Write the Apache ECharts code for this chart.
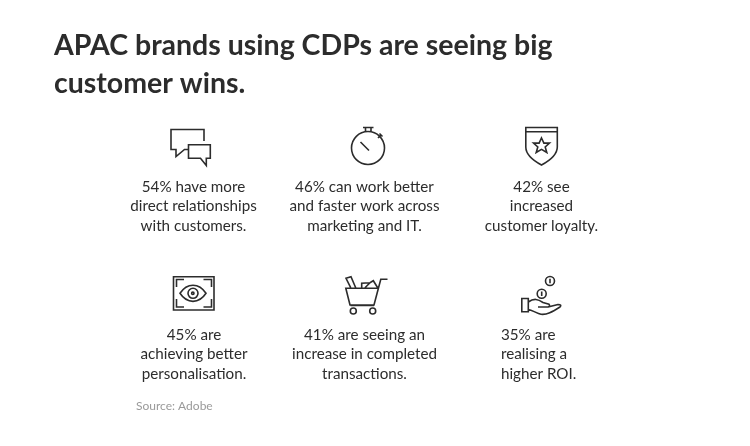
<!DOCTYPE html>
<html>
<head>
<meta charset="utf-8">
<script src="https://cdn.jsdelivr.net/npm/echarts@6/dist/echarts.min.js"></script>
<style>
  html, body { margin: 0; padding: 0; background: #fff; }
  #chart { width: 750px; height: 446px; }
</style>
</head>
<body>
<div id="chart"></div>
<script>
var titleText = 'APAC brands using CDPs are seeing big\ncustomer wins.';
var sourceText = 'Source: Adobe';
var percents = [54, 46, 42, 45, 41, 35];
var captions = [
  ' have more\ndirect relationships\nwith customers.',
  ' can work better\nand faster work across\nmarketing and IT.',
  ' see\nincreased\ncustomer loyalty.',
  ' are\nachieving better\npersonalisation.',
  ' are seeing an\nincrease in completed\ntransactions.',
  ' are\nrealising a\nhigher ROI.'
];

// where each caption sits on the page
var captionSlots = [
  { x: 193.5, y: 177.6, align: 'center' },
  { x: 364.5, y: 177.6, align: 'center' },
  { x: 541.5, y: 177.6, align: 'center' },
  { x: 194, y: 325.6, align: 'center' },
  { x: 364.5, y: 325.6, align: 'center' },
  { x: 501, y: 325.6, align: 'left' }
];

var ink = '#2c2c2c';
var fontName = 'Lato, sans-serif';

// icons are plain svg paths in page pixels
var iconPaths = [
  // chat bubbles
  'M204 141V129.5H171V149.5H176V156.5L184.5 149.5H188 M188.5 144.8H210.3V158.3H206.3V165.5L200.5 158.3H188.5Z',
  // stopwatch
  'M384.5 148A16.5 16.5 0 1 1 351.5 148A16.5 16.5 0 1 1 384.5 148Z M363 127.5H373.5 M365.5 127.5V131.8 M371 127.5V131.8 M378 138L381 135 M379.5 133.5L382.5 136.5 M360.5 142L369 150.5',
  // shield with star
  'M525.8 127.5H557.3V147C557.3 155 549 161 541.5 165C534 161 525.8 155 525.8 147Z M525.8 131.8H557.3 M541.5 138L543.9 143.1H549.5L545.2 147L546.8 152.5L541.5 149.4L536.2 152.5L537.8 147L533.5 143.1H539.1Z',
  // framed eye
  'M173.5 276.8H214V310H173.5Z M176.5 287V279.5H184 M203.5 279.5H211.5V287 M176.5 299V307H184 M203.5 307H211.5V299 M180 293.3C187 282.5 199 282.5 206 293.3C199 304 187 304 180 293.3Z M198 293.3A5 5 0 1 1 188 293.3A5 5 0 1 1 198 293.3Z M194 293.3A1.2 1.2 0 1 1 191.6 293.3A1.2 1.2 0 1 1 194 293.3Z',
  // cart
  'M345.8 288.3H378.4L374 305H350Z M378.4 288.3L380.8 279.2H387.5 M350.5 305.5H374 M356.3 311A3 3 0 1 1 350.3 311A3 3 0 1 1 356.3 311Z M375.7 311A3 3 0 1 1 369.7 311A3 3 0 1 1 375.7 311Z M350.7 287.7L346 278.3L351 276.7L355.7 287.7 M361.7 287.7V283.3L370 282.7L373.3 280.7L377.7 287.7 M365 287.7L370 282.7',
  // hand with coins
  'M521.8 298.5H528.3V311.7H521.8Z M528.3 302C534 298 538 299 543 302.5L549 304.2C550 305.5 549.5 306.8 548 307L538 307 M548 307L558 304.5C561 304.5 561.5 305.5 560 307C552 312 547 315 541 314.3C537 313.5 532 310 528.3 309.5 M554.5 281A4.5 4.5 0 1 1 545.5 281A4.5 4.5 0 1 1 554.5 281Z M550 278.8V283.2 M546.2 293.7A4.5 4.5 0 1 1 537.2 293.7A4.5 4.5 0 1 1 546.2 293.7Z M541.7 291.5V295.9'
];

var myChart = echarts.init(document.getElementById('chart'), null, { renderer: 'canvas' });

var elements = [];
percents.forEach(function (pct, i) {
  elements.push({
    type: 'text',
    x: captionSlots[i].x,
    y: captionSlots[i].y,
    style: {
      text: pct + '%' + captions[i],
      fill: ink,
      font: '15.2px ' + fontName,
      lineHeight: 19.3,
      align: captionSlots[i].align,
      verticalAlign: 'top'
    }
  });
});
iconPaths.forEach(function (d, i) {
  echarts.graphic.registerShape('icon' + i, echarts.graphic.extendPath(d, {}));
  elements.push({
    type: 'icon' + i,
    style: { fill: null, stroke: ink, lineWidth: 1.6 }
  });
});
elements.push({
  type: 'text',
  x: 136,
  y: 400,
  style: { text: sourceText, fill: '#9a9a9a', font: '12px ' + fontName, verticalAlign: 'top' }
});

var option = {
  backgroundColor: '#fff',
  animation: false,
  title: {
    text: titleText,
    left: 49,
    top: 21.5,
    textStyle: {
      color: ink,
      fontFamily: fontName,
      fontWeight: 'bold',
      fontSize: 28.5,
      lineHeight: 38
    }
  },
  graphic: { elements: elements }
};
myChart.setOption(option);
</script>
</body>
</html>
